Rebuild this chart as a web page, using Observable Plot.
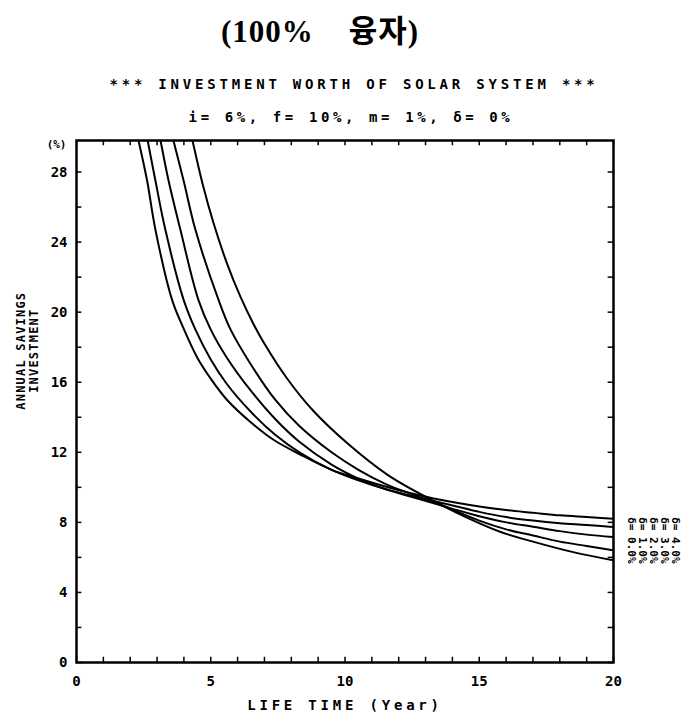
<!DOCTYPE html>
<html>
<head>
<meta charset="utf-8">
<script src="https://cdn.jsdelivr.net/npm/d3@7"></script>
<script src="https://cdn.jsdelivr.net/npm/@observablehq/plot@0.6"></script>
<style>
  body { margin: 0; background: #fff; width: 688px; }
  #head { position: relative; height: 130px; }
  #t1 { position: absolute; top: 6px; left: 0; width: 640px; text-align: center;
        font-family: "Liberation Serif", "Noto Sans CJK KR", serif; font-size: 31px; font-weight: bold; letter-spacing: 1px; white-space: pre; }
  #t2 { position: absolute; top: 76px; left: 0; width: 708px; text-align: center;
        font-family: "DejaVu Sans Mono", monospace; font-size: 14px; font-weight: bold; letter-spacing: 3.8px; }
  #t3 { position: absolute; top: 109px; left: 0; width: 702px; text-align: center;
        font-family: "DejaVu Sans Mono", monospace; font-size: 14px; font-weight: bold; letter-spacing: 3.6px; }
  .wide text { letter-spacing: 3.8px; }
  .ylab text { letter-spacing: 1.2px; }
</style>
</head>
<body>
<div id="head">
  <div id="t1">(100%    융자)</div>
  <div id="t2">*** INVESTMENT WORTH OF SOLAR SYSTEM ***</div>
  <div id="t3">i= 6%, f= 10%, m= 1%, δ= 0%</div>
</div>
<div id="chart"></div>
<script>
// Curves: [life time (year), annual savings / investment (%)]
const curve1 = [[2.31,29.8],[2.63,27.5],[2.94,24.7],[3.56,20.7],[3.95,19.2],[4.5,17.4],[5.0,16.2],[5.6,15.0],[6.5,13.7],[7.35,12.7],[8.3,11.9],[9.5,11.0],[10.5,10.5],[11.5,10.05],[12.5,9.65],[13.5,9.3],[15,8.9],[16,8.7],[17,8.55],[18,8.4],[19,8.3],[20,8.2]];
const curve2 = [[2.65,29.8],[2.94,27.5],[3.31,24.7],[3.99,20.7],[4.43,19.0],[5.0,17.3],[5.6,15.9],[6.5,14.3],[7.4,13.0],[8.3,12.0],[9.5,11.0],[10.5,10.4],[11.5,9.9],[12.5,9.5],[13.5,9.15],[15,8.6],[16,8.3],[17,8.1],[18,7.95],[19,7.85],[20,7.73]];
const curve3 = [[3.13,29.8],[3.43,27.5],[3.87,24.7],[4.54,20.7],[5.0,19.0],[5.6,17.4],[6.5,15.5],[7.4,13.9],[8.3,12.6],[9.5,11.3],[10.5,10.5],[11.5,9.9],[12.5,9.45],[13.5,9.0],[15,8.35],[16,8.0],[17,7.75],[18,7.5],[19,7.3],[20,7.16]];
const curve4 = [[3.61,29.8],[3.99,27.5],[4.43,24.7],[5.29,20.7],[5.74,19.0],[6.5,17.0],[7.4,15.0],[8.3,13.5],[9.5,12.0],[10.5,11.0],[11.5,10.2],[12.5,9.6],[13.5,9.05],[15,8.1],[16,7.6],[17,7.25],[18,6.9],[19,6.65],[20,6.4]];
const curve5 = [[4.32,29.8],[4.7,27.3],[5.1,25.1],[5.6,22.8],[6.1,20.9],[6.6,19.3],[7.0,18.2],[7.85,16.2],[8.8,14.4],[10.1,12.5],[11.6,10.7],[13.2,9.3],[14.5,8.3],[15.8,7.45],[17,6.9],[18.5,6.3],[20,5.83]];
const curves = [curve1, curve2, curve3, curve4, curve5];

const xTicks = [0, 5, 10, 15, 20];
const yTicks = [0, 4, 8, 12, 16, 20, 24, 28];
const xMinor = d3.range(0, 21, 1);
const yMinor = d3.range(0, 30, 2);
const seriesLabels = ["δ= 0.0%", "δ= 1.0%", "δ= 2.0%", "δ= 3.0%", "δ= 4.0%"];

const rows = curves.flatMap((c, i) => c.map(([t, v]) => ({series: i, t, v})));

const font = "DejaVu Sans Mono, monospace";

const chart = Plot.plot({
  width: 688,
  height: 591,
  marginLeft: 76,
  marginRight: 75,
  marginTop: 10,
  marginBottom: 59,
  style: {fontFamily: font, fontSize: "12px", fontWeight: "bold", background: "#fff", color: "#000"},
  x: {domain: [0, 20], axis: null},
  y: {domain: [0, 29.8], axis: null},
  marks: [
    // inward minor ticks
    Plot.ruleX(xMinor, {x: d => d, y1: 0, y2: 0.3, stroke: "#000", strokeWidth: 1.5}),
    Plot.ruleX(xMinor, {x: d => d, y1: 29.8, y2: 29.5, stroke: "#000", strokeWidth: 1.5}),
    Plot.ruleY(yMinor, {y: d => d, x1: 0, x2: 0.2, stroke: "#000", strokeWidth: 1.5}),
    Plot.ruleY(yMinor, {y: d => d, x1: 20, x2: 19.8, stroke: "#000", strokeWidth: 1.5}),
    Plot.frame({stroke: "#000", strokeWidth: 2.5}),
    Plot.line(rows, {x: "t", y: "v", z: "series", stroke: "#000", strokeWidth: 2, curve: "catmull-rom", clip: true}),
    // tick labels
    Plot.text(yTicks, {x: 0, y: d => d, text: d => String(d), textAnchor: "end", dx: -9, fontSize: 14, fontWeight: "bold"}),
    Plot.text(xTicks, {x: d => d, y: 0, text: d => String(d), dy: 19, fontSize: 14, fontWeight: "bold"}),
    Plot.text(["(%)"], {x: 0, y: 29.8, text: d => d, textAnchor: "end", dx: -10, dy: 4, fontSize: 11, fontWeight: "bold"}),
    Plot.text(["LIFE TIME (Year)"], {x: 10, y: 0, text: d => d, dy: 43, fontSize: 14, fontWeight: "bold", className: "wide"}),
    // y axis label as a fraction
    Plot.text(["ANNUAL SAVINGS"], {x: 0, y: 17.8, text: d => d, rotate: -90, dx: -55, fontSize: 12, fontWeight: "bold", className: "ylab"}),
    Plot.text(["INVESTMENT"], {x: 0, y: 17.8, text: d => d, rotate: -90, dx: -42, fontSize: 12, fontWeight: "bold", className: "ylab"}),
    // right-hand curve labels, one rotated column each
    ...seriesLabels.map((s, i) =>
      Plot.text([s], {x: 20, y: 6.97, text: d => d, rotate: 90, dx: 18 + i * 11, fontSize: 11, fontWeight: "bold"}))
  ]
});

document.getElementById("chart").appendChild(chart);
</script>
</body>
</html>
